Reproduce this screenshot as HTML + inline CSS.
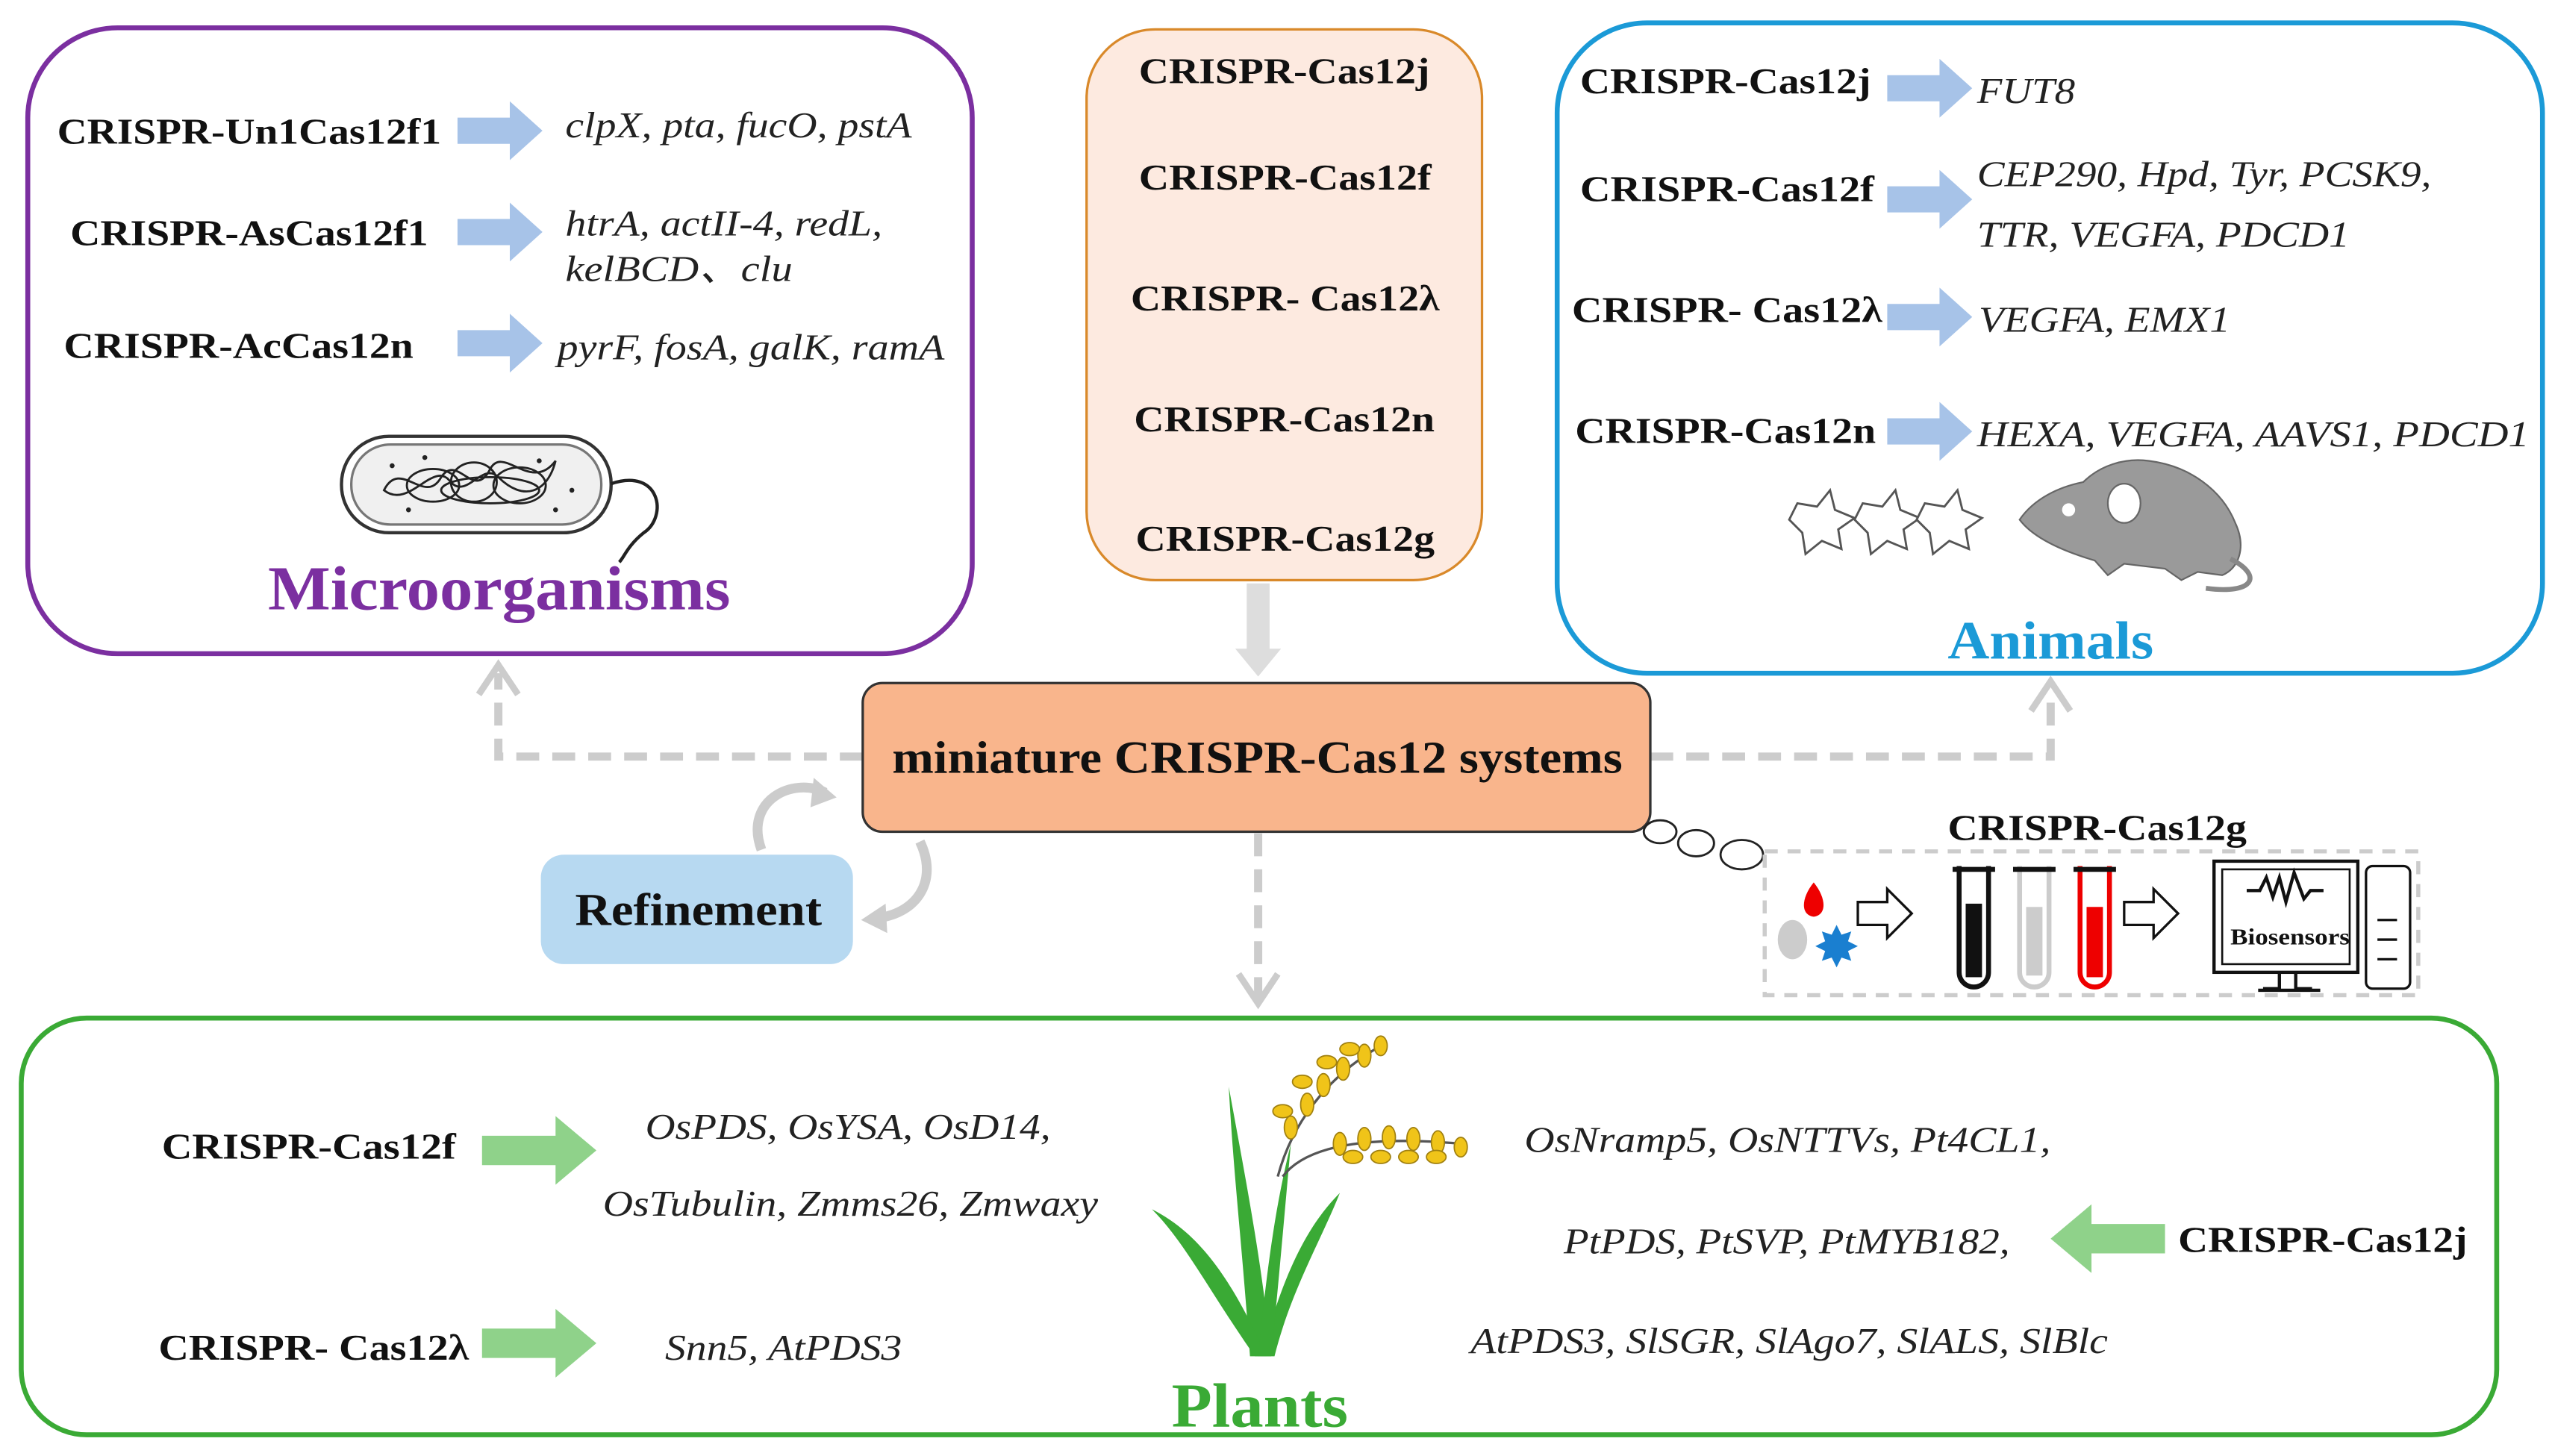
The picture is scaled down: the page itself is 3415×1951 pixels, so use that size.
<!DOCTYPE html>
<html><head><meta charset="utf-8"><style>
html,body{margin:0;padding:0;background:#fff;}
svg{display:block;}
text{font-family:"Liberation Serif","Times New Roman","DejaVu Serif",serif;}
.b{font-weight:bold;fill:#111;}
.i{font-style:italic;fill:#222;}
</style></head><body>
<svg width="3415" height="1951" viewBox="0 0 1560 891" preserveAspectRatio="none" xmlns="http://www.w3.org/2000/svg">
<!-- Microorganisms box -->
<rect x="17" y="17" width="578" height="383" rx="55" fill="none" stroke="#7b2fa0" stroke-width="3"/>
<g font-size="22" lengthAdjust="spacingAndGlyphs">
<text class="b" x="35" y="88" textLength="235" lengthAdjust="spacingAndGlyphs">CRISPR-Un1Cas12f1</text>
<text class="b" x="43" y="150" textLength="219" lengthAdjust="spacingAndGlyphs">CRISPR-AsCas12f1</text>
<text class="b" x="39" y="219" textLength="214" lengthAdjust="spacingAndGlyphs">CRISPR-AcCas12n</text>
<text class="i" x="346" y="84" textLength="212" lengthAdjust="spacingAndGlyphs">clpX, pta, fucO, pstA</text>
<text class="i" x="346" y="144" textLength="194" lengthAdjust="spacingAndGlyphs">htrA, actII-4, redL,</text>
<text class="i" x="346" y="172" textLength="139" lengthAdjust="spacingAndGlyphs">kelBCD、clu</text>
<text class="i" x="341" y="220" textLength="237" lengthAdjust="spacingAndGlyphs">pyrF, fosA, galK, ramA</text>
</g>
<g fill="#a7c3e8">
<path d="M280,72 h32 v-10 l20,18 l-20,18 v-10 h-32z"/>
<path d="M280,134 h32 v-10 l20,18 l-20,18 v-10 h-32z"/>
<path d="M280,202 h32 v-10 l20,18 l-20,18 v-10 h-32z"/>
</g>
<!-- bacterium -->
<rect x="209" y="267" width="165" height="59" rx="29" fill="#fff" stroke="#333" stroke-width="2"/>
<rect x="215" y="272" width="153" height="49" rx="24" fill="#f0f0f0" stroke="#777" stroke-width="1.5"/>
<g fill="none" stroke="#222" stroke-width="1.3">
<path d="M235,300 c10,-20 25,10 35,-8 c10,-15 20,15 30,-5 c8,-15 25,15 40,-5 c-5,20 -20,25 -35,10 c-10,-10 -20,15 -30,2 c-10,-12 -25,18 -40,6z"/>
<ellipse cx="265" cy="297" rx="16" ry="10"/><ellipse cx="290" cy="295" rx="14" ry="12"/><ellipse cx="318" cy="297" rx="16" ry="11"/>
<ellipse cx="300" cy="300" rx="30" ry="8"/>
</g>
<g fill="#222"><circle cx="240" cy="285" r="1.5"/><circle cx="260" cy="280" r="1.5"/><circle cx="330" cy="282" r="1.5"/><circle cx="350" cy="300" r="1.5"/><circle cx="250" cy="312" r="1.5"/><circle cx="340" cy="312" r="1.5"/></g>
<path d="M374,296 c30,-10 35,20 20,30 c-10,8 -12,15 -15,18" fill="none" stroke="#222" stroke-width="2"/>
<text x="164" y="373" textLength="283" lengthAdjust="spacingAndGlyphs" font-weight="bold" font-size="38" fill="#7b2fa0">Microorganisms</text>
<!-- center top box -->
<rect x="665" y="18" width="242" height="337" rx="42" fill="#fdeae0" stroke="#d9892a" stroke-width="1.5"/>
<g font-size="22">
<text class="b" x="697" y="51" textLength="178" lengthAdjust="spacingAndGlyphs">CRISPR-Cas12j</text>
<text class="b" x="697" y="116" textLength="179" lengthAdjust="spacingAndGlyphs">CRISPR-Cas12f</text>
<text class="b" x="692" y="190" textLength="189" lengthAdjust="spacingAndGlyphs">CRISPR- Cas12λ</text>
<text class="b" x="694" y="264" textLength="184" lengthAdjust="spacingAndGlyphs">CRISPR-Cas12n</text>
<text class="b" x="695" y="337" textLength="183" lengthAdjust="spacingAndGlyphs">CRISPR-Cas12g</text>
</g>
<path d="M763,357 h14 v40 h7 l-14,17 l-14,-17 h7z" fill="#ddd"/>
<!-- dashed connectors -->
<g stroke="#ccc" stroke-width="5" stroke-dasharray="14,8" fill="none">
<path d="M528,463 H305 V412"/>
<path d="M1010,463 H1255 V422"/>
<path d="M770,510 V612"/>
</g>
<g stroke="#ccc" stroke-width="4" fill="none">
<path d="M293,425 L305,407 L317,425"/>
<path d="M1243,435 L1255,417 L1267,435"/>
<path d="M758,596 L770,614 L782,596"/>
</g>
<!-- main box -->
<rect x="528" y="418" width="482" height="91" rx="12" fill="#f9b58c" stroke="#333" stroke-width="1.5"/>
<text class="b" x="546" y="473" textLength="447" lengthAdjust="spacingAndGlyphs" font-size="28">miniature CRISPR-Cas12 systems</text>
<!-- refinement -->
<path d="M466,520 C455,490 485,475 505,485" fill="none" stroke="#ccc" stroke-width="6"/>
<path d="M498,476 L512,488 L496,494z" fill="#ccc"/>
<path d="M563,515 C575,540 560,560 535,562" fill="none" stroke="#ccc" stroke-width="6"/>
<path d="M542,553 L527,563 L543,571z" fill="#ccc"/>
<rect x="331" y="523" width="191" height="67" rx="14" fill="#b7d9f1"/>
<text class="b" x="352" y="566" textLength="151" lengthAdjust="spacingAndGlyphs" font-size="28">Refinement</text>
<!-- Animals box -->
<rect x="953" y="14" width="603" height="398" rx="55" fill="none" stroke="#1b9ad7" stroke-width="3"/>
<g font-size="22">
<text class="b" x="967" y="57" textLength="178" lengthAdjust="spacingAndGlyphs">CRISPR-Cas12j</text>
<text class="b" x="967" y="123" textLength="180" lengthAdjust="spacingAndGlyphs">CRISPR-Cas12f</text>
<text class="b" x="962" y="197" textLength="190" lengthAdjust="spacingAndGlyphs">CRISPR- Cas12λ</text>
<text class="b" x="964" y="271" textLength="184" lengthAdjust="spacingAndGlyphs">CRISPR-Cas12n</text>
<text class="i" x="1210" y="63" textLength="60" lengthAdjust="spacingAndGlyphs">FUT8</text>
<text class="i" x="1210" y="114" textLength="278" lengthAdjust="spacingAndGlyphs">CEP290, Hpd, Tyr, PCSK9,</text>
<text class="i" x="1210" y="151" textLength="228" lengthAdjust="spacingAndGlyphs">TTR, VEGFA, PDCD1</text>
<text class="i" x="1211" y="203" textLength="154" lengthAdjust="spacingAndGlyphs">VEGFA, EMX1</text>
<text class="i" x="1210" y="273" textLength="338" lengthAdjust="spacingAndGlyphs">HEXA, VEGFA,  AAVS1, PDCD1</text>
</g>
<g fill="#a7c3e8">
<path d="M1155,46 h32 v-10 l20,18 l-20,18 v-10 h-32z"/>
<path d="M1155,114 h32 v-10 l20,18 l-20,18 v-10 h-32z"/>
<path d="M1155,186 h32 v-10 l20,18 l-20,18 v-10 h-32z"/>
<path d="M1155,256 h32 v-10 l20,18 l-20,18 v-10 h-32z"/>
</g>
<g fill="#fff" stroke="#555" stroke-width="1.3">
<path d="M1100,308 l12,2 l8,-10 l3,12 l12,5 l-10,7 l2,12 l-12,-5 l-10,8 l-2,-13 l-8,-8z"/>
<path d="M1140,308 l12,2 l8,-10 l3,12 l12,5 l-10,7 l2,12 l-12,-5 l-10,8 l-2,-13 l-8,-8z"/>
<path d="M1178,308 l12,2 l8,-10 l3,12 l12,5 l-10,7 l2,12 l-12,-5 l-10,8 l-2,-13 l-8,-8z"/>
</g>
<!-- mouse -->
<path d="M1236,318 C1245,305 1260,298 1275,295 C1285,285 1300,280 1315,282 C1340,285 1360,300 1368,320 C1375,335 1370,348 1360,352 L1345,350 L1335,355 L1325,348 L1300,345 L1290,352 L1282,343 C1265,338 1245,330 1236,318z" fill="#9a9a9a" stroke="#666"/>
<ellipse cx="1300" cy="308" rx="10" ry="12" fill="#fff" stroke="#666"/>
<circle cx="1266" cy="312" r="4" fill="#fff"/>
<path d="M1365,342 C1385,352 1380,364 1350,360" fill="none" stroke="#888" stroke-width="3"/>
<text x="1192" y="403" textLength="126" lengthAdjust="spacingAndGlyphs" font-weight="bold" font-size="33" fill="#1b9ad7">Animals</text>
<!-- clouds -->
<g fill="#fff" stroke="#222" stroke-width="1.3">
<ellipse cx="1016" cy="509" rx="10" ry="7"/>
<ellipse cx="1038" cy="516" rx="11" ry="8"/>
<ellipse cx="1066" cy="523" rx="13" ry="9"/>
</g>
<text class="b" x="1192" y="514" textLength="183" lengthAdjust="spacingAndGlyphs" font-size="22">CRISPR-Cas12g</text>
<rect x="1080" y="521" width="400" height="88" fill="none" stroke="#ccc" stroke-width="2.5" stroke-dasharray="8,6"/>
<path d="M1110,540 c-8,10 -8,20 0,21 c8,-1 8,-11 0,-21z" fill="#e00"/>
<ellipse cx="1097" cy="575" rx="9" ry="12" fill="#ccc"/>
<path d="M1124,566 l3,6 l6,-2 l-2,6 l6,3 l-6,3 l2,6 l-6,-2 l-3,6 l-3,-6 l-6,2 l2,-6 l-6,-3 l6,-3 l-2,-6 l6,2z" fill="#1a7fd0"/>
<path d="M1137,552 h18 v-8 l15,15 l-15,15 v-8 h-18z" fill="#fff" stroke="#111" stroke-width="1.5"/>
<path d="M1300,552 h18 v-8 l15,15 l-15,15 v-8 h-18z" fill="#fff" stroke="#111" stroke-width="1.5"/>
<g fill="none" stroke-width="3">
<path d="M1199,530 v65 a9,9 0 0 0 18,0 v-65" stroke="#111"/>
<path d="M1236,530 v65 a9,9 0 0 0 18,0 v-65" stroke="#ccc"/>
<path d="M1273,530 v65 a9,9 0 0 0 18,0 v-65" stroke="#e00"/>
</g>
<rect x="1203" y="553" width="10" height="45" fill="#111"/>
<rect x="1240" y="555" width="10" height="42" fill="#ccc"/>
<rect x="1277" y="555" width="10" height="43" fill="#e00"/>
<path d="M1195,532 h26 M1232,532 h26 M1269,532 h26" stroke="#111" stroke-width="3"/>
<rect x="1355" y="527" width="88" height="68" fill="#fff" stroke="#111" stroke-width="2"/>
<rect x="1360" y="532" width="78" height="58" fill="none" stroke="#111" stroke-width="1.2"/>
<path d="M1375,545 h8 l4,-8 l4,12 l4,-12 l4,15 l5,-18 l6,16 l4,-5 h8" fill="none" stroke="#111" stroke-width="2"/>
<text class="b" x="1365" y="578" textLength="73" lengthAdjust="spacingAndGlyphs" font-size="14">Biosensors</text>
<path d="M1395,595 v10 h-10 M1405,595 v10 h10 M1382,606 h38" stroke="#111" stroke-width="2" fill="none"/>
<rect x="1448" y="530" width="27" height="75" rx="4" fill="#fff" stroke="#111" stroke-width="1.5"/>
<path d="M1455,563 h12 M1455,575 h12 M1455,587 h12" stroke="#111" stroke-width="1.5"/>
<!-- Plants box -->
<rect x="13" y="623" width="1515" height="255" rx="40" fill="none" stroke="#3aaa35" stroke-width="3"/>
<g font-size="22">
<text class="b" x="99" y="709" textLength="180" lengthAdjust="spacingAndGlyphs">CRISPR-Cas12f</text>
<text class="b" x="97" y="832" textLength="190" lengthAdjust="spacingAndGlyphs">CRISPR- Cas12λ</text>
<text class="b" x="1333" y="766" textLength="177" lengthAdjust="spacingAndGlyphs">CRISPR-Cas12j</text>
<text class="i" x="395" y="697" textLength="248" lengthAdjust="spacingAndGlyphs">OsPDS, OsYSA, OsD14,</text>
<text class="i" x="369" y="744" textLength="303" lengthAdjust="spacingAndGlyphs">OsTubulin, Zmms26, Zmwaxy</text>
<text class="i" x="407" y="832" textLength="145" lengthAdjust="spacingAndGlyphs">Snn5, AtPDS3</text>
<text class="i" x="933" y="705" textLength="322" lengthAdjust="spacingAndGlyphs">OsNramp5, OsNTTVs, Pt4CL1,</text>
<text class="i" x="957" y="767" textLength="273" lengthAdjust="spacingAndGlyphs">PtPDS, PtSVP, PtMYB182,</text>
<text class="i" x="900" y="828" textLength="390" lengthAdjust="spacingAndGlyphs">AtPDS3, SlSGR, SlAgo7, SlALS, SlBlc</text>
</g>
<g fill="#8fd28a">
<path d="M295,695 h45 v-12 l25,21 l-25,21 v-12 h-45z"/>
<path d="M295,813 h45 v-12 l25,21 l-25,21 v-12 h-45z"/>
<path d="M1325,749 h-45 v-12 l-25,21 l25,21 v-12 h45z"/>
</g>
<!-- plant -->
<g fill="#3aaa35">
<path d="M765,830 C760,760 755,720 752,665 C762,720 772,770 778,830z"/>
<path d="M768,830 C740,790 725,760 705,740 C735,755 755,785 775,830z"/>
<path d="M772,830 C785,780 800,750 820,730 C808,760 790,790 780,830z"/>
<path d="M770,830 C775,780 780,740 790,700 C786,745 782,790 778,830z"/>
</g>
<path d="M782,720 C790,690 810,660 845,640 M785,720 C800,700 840,695 895,700" fill="none" stroke="#555" stroke-width="1.5"/>
<g fill="#f0c419" stroke="#a08010" stroke-width="0.8">
<ellipse cx="790" cy="690" rx="4" ry="7"/><ellipse cx="800" cy="676" rx="4" ry="7"/><ellipse cx="810" cy="664" rx="4" ry="7"/><ellipse cx="822" cy="654" rx="4" ry="7"/><ellipse cx="835" cy="646" rx="4" ry="7"/><ellipse cx="845" cy="640" rx="4" ry="6"/>
<ellipse cx="785" cy="680" rx="6" ry="4"/><ellipse cx="797" cy="662" rx="6" ry="4"/><ellipse cx="812" cy="650" rx="6" ry="4"/><ellipse cx="826" cy="642" rx="6" ry="4"/>
<ellipse cx="820" cy="700" rx="4" ry="7"/><ellipse cx="835" cy="697" rx="4" ry="7"/><ellipse cx="850" cy="696" rx="4" ry="7"/><ellipse cx="865" cy="697" rx="4" ry="7"/><ellipse cx="880" cy="699" rx="4" ry="7"/><ellipse cx="894" cy="702" rx="4" ry="6"/>
<ellipse cx="828" cy="708" rx="6" ry="4"/><ellipse cx="845" cy="708" rx="6" ry="4"/><ellipse cx="862" cy="708" rx="6" ry="4"/><ellipse cx="879" cy="708" rx="6" ry="4"/>
</g>
<text x="717" y="873" textLength="108" lengthAdjust="spacingAndGlyphs" font-weight="bold" font-size="38" fill="#3aaa35">Plants</text>
</svg>
</body></html>
